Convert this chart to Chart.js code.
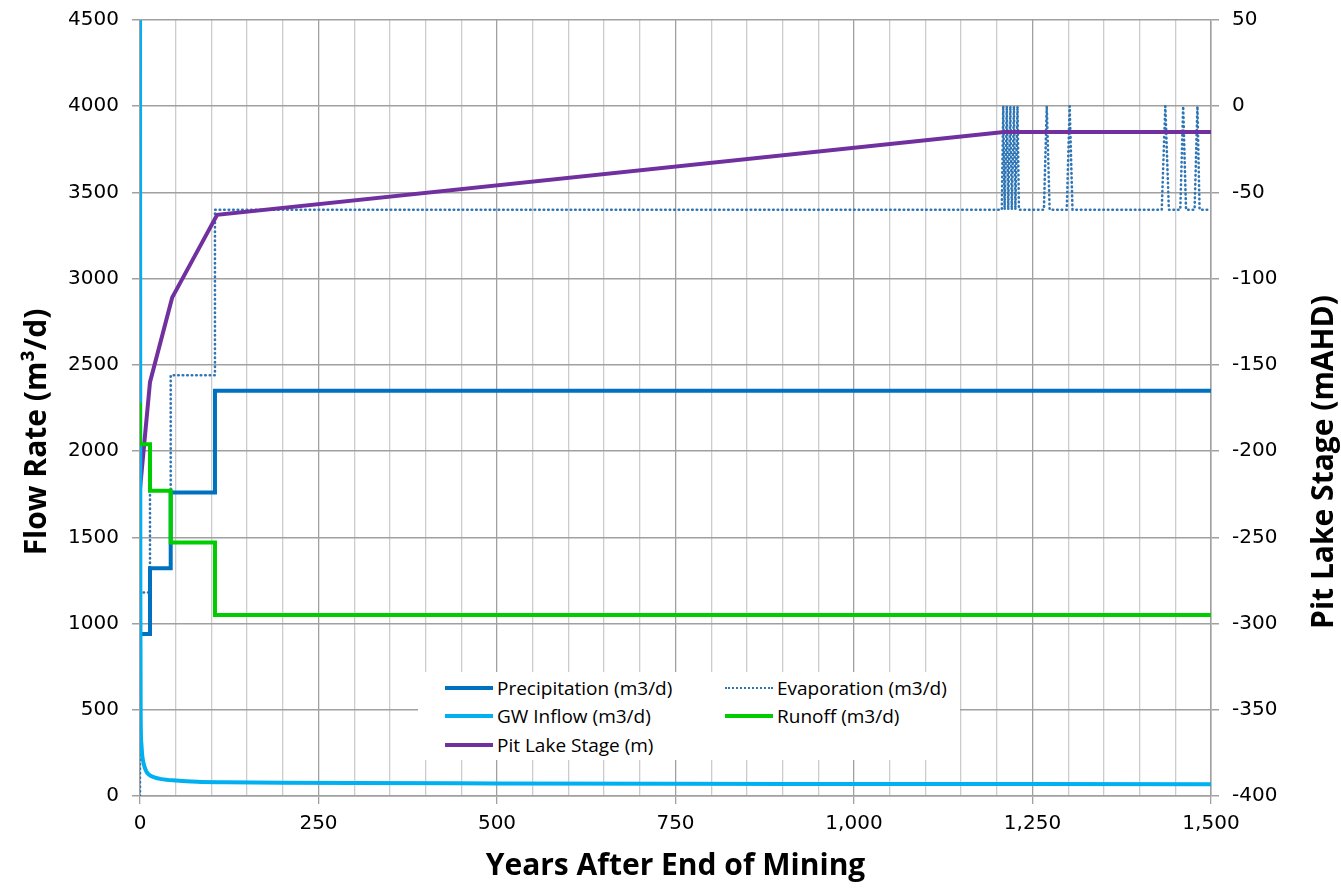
<!DOCTYPE html>
<html>
<head>
<meta charset="utf-8">
<script src="https://cdn.jsdelivr.net/npm/chart.js@4.4.1/dist/chart.umd.min.js"></script>
<style>
  body { margin: 0; background: #fff; }
  .wrap { position: relative; width: 1341px; height: 890px; }
  .legend {
    position: absolute; left: 418px; top: 672px; width: 542px; height: 88px;
    background: #fff; font-family: 'Open Sans', sans-serif; font-size: 19px; color: #000;
  }
  .item { position: absolute; display: flex; align-items: center; white-space: nowrap; }
  .item i { display: inline-block; width: 48px; margin-right: 4px; }
  .ytitle {
    position: absolute; width: 400px; height: 40px; line-height: 40px; text-align: center;
    font-family: 'Liberation Sans Narrow', 'Open Sans', sans-serif; font-weight: bold; font-size: 30px;
    transform: translate(-50%, -50%) rotate(-90deg); white-space: nowrap; color: #000;
  }
</style>
</head>
<body>
<div class="wrap">
  <canvas id="chart" width="1341" height="890"></canvas>
  <div class="legend" id="legend"></div>
  <div class="ytitle" style="left:35px; top:432px;">Flow Rate (m³/d)</div>
  <div class="ytitle" style="left:1322px; top:462px;">Pit Lake Stage (mAHD)</div>
</div>
<script>
// years after end of mining
const precipYears = [0, 14, 43, 105, 1500];
const precipFlow = [940, 1320, 1760, 2350, 2350];

const runoffYears = [0, 0, 14, 43, 105, 1500];
const runoffFlow = [2280, 2040, 1770, 1470, 1050, 1050];

const gwYears = [0, 0.5, 1, 2, 3, 5, 8, 12, 20, 30, 50, 80, 120, 200, 300, 500, 750, 1000, 1250, 1500];
const gwFlow = [4700, 1200, 450, 300, 240, 190, 150, 125, 108, 98, 90, 83, 80, 77, 75, 73, 71, 70, 69, 68];

const evapYears = [0, 0, 14, 14, 43, 43, 105, 105,
  1207, 1209, 1211, 1214, 1216, 1219, 1221, 1224, 1226, 1229, 1231, 1233,
  1266, 1270, 1274, 1298, 1302, 1306, 1431, 1436, 1441, 1457, 1461, 1465, 1477, 1481, 1484, 1500];
const evapFlow = [0, 1180, 1180, 1770, 1770, 2440, 2440, 3400,
  3400, 4000, 3400, 4000, 3400, 4000, 3400, 4000, 3400, 4000, 3400, 3400,
  3400, 4000, 3400, 3400, 4000, 3400, 3400, 4000, 3400, 3400, 4000, 3400, 3400, 4000, 3400, 3400];

const stageYears = [0, 14, 45, 108, 1210, 1500];
const stageLevel = [-222, -160, -111, -63, -15, -15];

const xTicks = [0, 250, 500, 750, 1000, 1250, 1500];

const pts = (xs, ys) => xs.map((x, i) => ({ x: x, y: ys[i] }));

const series = [
  { label: 'Precipitation (m3/d)', data: pts(precipYears, precipFlow), borderColor: '#0070C0', borderWidth: 4, stepped: true, order: 2 },
  { label: 'Evaporation (m3/d)', data: pts(evapYears, evapFlow), borderColor: '#2E75B6', borderWidth: 2.6, borderDash: [0.5, 4], borderCapStyle: 'round', order: 4 },
  { label: 'GW Inflow (m3/d)', data: pts(gwYears, gwFlow), borderColor: '#00B0F0', borderWidth: 4, cubicInterpolationMode: 'monotone', order: 0 },
  { label: 'Runoff (m3/d)', data: pts(runoffYears, runoffFlow), borderColor: '#00CC00', borderWidth: 4, stepped: true, order: -1 },
  { label: 'Pit Lake Stage (m)', data: pts(stageYears, stageLevel), borderColor: '#7030A0', borderWidth: 4, yAxisID: 'y1', order: 1 }
];
series.forEach(s => { s.pointRadius = 0; s.fill = false; if (!s.borderCapStyle) s.borderCapStyle = 'butt'; });

const tickFont = { family: "'DejaVu Sans', sans-serif", size: 20 };

// pin the vertical axes so the plot area matches the source frame
const fitY = w => s => { s.width = w; s.paddingTop = 0; s.paddingBottom = 0; };

new Chart(document.getElementById('chart'), {
  type: 'line',
  data: { datasets: series },
  options: {
    responsive: false,
    animation: false,
    layout: { padding: { top: 20, left: 0, right: 0, bottom: 0 } },
    plugins: { legend: { display: false }, tooltip: { enabled: false } },
    scales: {
      x: {
        type: 'linear', min: 0, max: 1500,
        afterFit: s => { s.height = 94; },
        ticks: {
          stepSize: 50, autoSkip: false, maxRotation: 0, padding: 8, color: '#000', font: tickFont,
          callback: v => xTicks.includes(v) ? v.toLocaleString('en-US') : ''
        },
        grid: {
          color: c => (c.tick && c.tick.value % 250 === 0) ? '#a0a0a0' : '#cccccc',
          tickColor: c => (c.tick && c.tick.value % 250 === 0) ? '#a0a0a0' : 'rgba(0,0,0,0)',
          lineWidth: 1.3, tickLength: 8
        },
        border: { color: '#a0a0a0', width: 1.5 },
        title: {
          display: true, text: 'Years After End of Mining', color: '#000',
          font: { family: "'Open Sans', sans-serif", size: 30, weight: 'bold' },
          padding: { top: 6, bottom: 6 }
        }
      },
      y: {
        position: 'left', min: 0, max: 4500,
        afterFit: fitY(140),
        ticks: { stepSize: 500, padding: 13, color: '#000', font: tickFont, callback: v => String(v) },
        grid: { color: '#a0a0a0', lineWidth: 1.5, tickLength: 8 },
        border: { color: '#a0a0a0', width: 1.5 }
      },
      y1: {
        position: 'right', min: -400, max: 50,
        afterFit: fitY(130),
        ticks: { stepSize: 50, padding: 13, color: '#000', font: tickFont, callback: v => String(v) },
        grid: { drawOnChartArea: false, color: '#a0a0a0', lineWidth: 1.5, tickLength: 8 },
        border: { color: '#a0a0a0', width: 1.5 }
      }
    }
  }
});

// legend laid out like the source: two columns, three rows
const legendPos = [[27, 16], [307, 16], [27, 44], [307, 44], [27, 73]];
const legend = document.getElementById('legend');
series.forEach((s, i) => {
  const el = document.createElement('div');
  el.className = 'item';
  el.style.left = legendPos[i][0] + 'px';
  el.style.top = (legendPos[i][1] - 13) + 'px';
  const line = s.borderDash ? '2px dotted ' + s.borderColor : '4px solid ' + s.borderColor;
  el.innerHTML = '<i style="border-top:' + line + '"></i>' + s.label;
  legend.appendChild(el);
});
</script>
</body>
</html>
